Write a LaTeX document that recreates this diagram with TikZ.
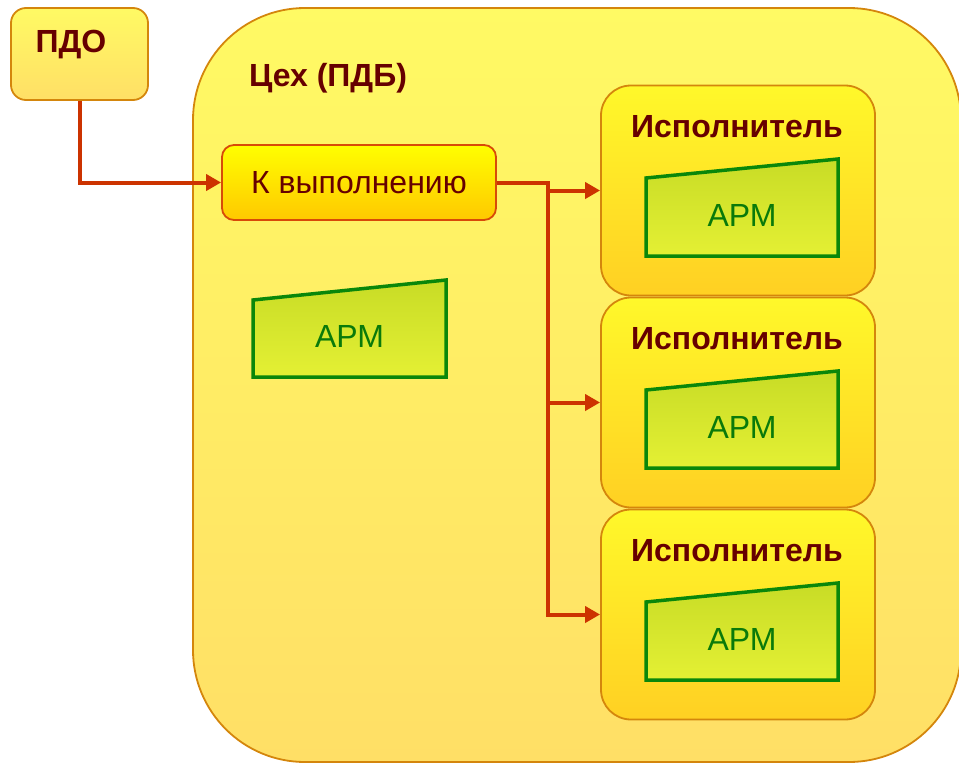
\documentclass[tikz,border=0pt]{standalone}
\usepackage{fontspec}
\setmainfont{Liberation Sans}
\usetikzlibrary{arrows.meta}
\definecolor{txtred}{HTML}{660000}
\definecolor{conncol}{HTML}{CC3300}
\definecolor{orangeedge}{HTML}{D4860C}
\definecolor{kedge}{HTML}{D84A08}
\definecolor{armedge}{HTML}{0A870A}
\definecolor{armtxt}{HTML}{0A7A0A}
\tikzset{
  x=1pt, y=-1pt,
  container/.style={draw=orangeedge, line width=1.8pt, rounded corners=112pt,
    top color={rgb,255:red,255;green,250;blue,100}, bottom color={rgb,255:red,255;green,223;blue,102}},
  pdobox/.style={draw=orangeedge, line width=1.8pt, rounded corners=15pt,
    minimum width=137pt, minimum height=92pt, inner sep=0pt,
    top color={rgb,255:red,255;green,250;blue,100}, bottom color={rgb,255:red,255;green,223;blue,102}},
  kbox/.style={draw=kedge, line width=1.8pt, rounded corners=12pt,
    minimum width=274pt, minimum height=75pt, inner sep=0pt, font=\fontsize{32}{36}\selectfont, text=txtred,
    top color={rgb,255:red,255;green,255;blue,0}, bottom color={rgb,255:red,255;green,200;blue,0}},
  execbox/.style={draw=orangeedge, line width=1.8pt, rounded corners=30pt,
    minimum width=274pt, minimum height=210pt, inner sep=0pt,
    top color={rgb,255:red,255;green,248;blue,42}, bottom color={rgb,255:red,255;green,208;blue,35}},
  boldtitle/.style={font=\fontsize{32}{36}\selectfont\bfseries, text=txtred, inner sep=0pt},
  armshape/.style={draw=armedge, line width=3.5pt, line join=miter,
    top color={rgb,255:red,200;green,220;blue,38}, bottom color={rgb,255:red,228;green,240;blue,52}},
  armtext/.style={font=\fontsize{32}{36}\selectfont, text=armtxt, inner sep=0pt},
  conn/.style={draw=conncol, line width=4pt, -{Triangle[length=15pt,width=16pt]}},
}
\begin{document}
\begin{tikzpicture}
\useasboundingbox (0,0) rectangle (959,763);
% container
\path[container] (193,8) rectangle (961,762);
\node[boldtitle] (cehtitle) at (328,78) {Цех (ПДБ)};
% PDO
\node[pdobox] (pdo) at (79.5,54) {};
\node[boldtitle] (pdotitle) at (71,45) {ПДО};
% K vypolneniyu
\node[kbox] (kv) at (359,182.5) {К выполнению};
% standalone ARM
\path[armshape] (253,300) -- (446,280) -- (446,377) -- (253,377) -- cycle;
\node[armtext] (arm0) at (349.5,336) {АРМ};
% executors
\foreach \i/\dy in {1/0,2/212,3/424}{
  \node[execbox] (e\i) at (738,190.5+\dy) {};
  \node[boldtitle] (e\i title) at (737,127+\dy) {Исполнитель};
  \path[armshape] (646,178+\dy) -- (838,159+\dy) -- (838,256+\dy) -- (646,256+\dy) -- cycle;
  \node[armtext] (arm\i) at (742,215+\dy) {АРМ};
}
% connectors
\coordinate (split) at (548,182.5);
\draw[conn] (pdo.south) |- (kv.west);
\draw[conn] (kv.east) -- (split) |- (e1.west);
\draw[conn] (split) |- (e2.west);
\draw[conn] (split) |- (e3.west);
\end{tikzpicture}
\end{document}
